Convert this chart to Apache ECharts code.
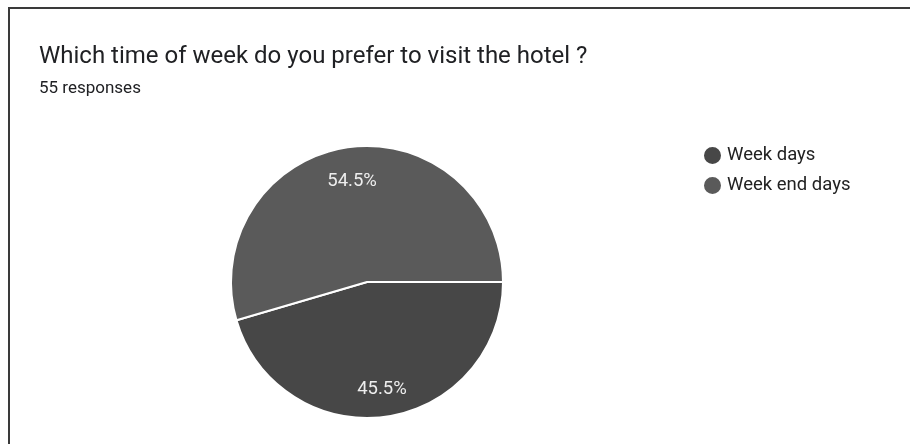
<!DOCTYPE html>
<html>
<head>
<meta charset="utf-8">
<script src="https://cdn.jsdelivr.net/npm/echarts@6/dist/echarts.min.js"></script>
<style>
  html, body { margin: 0; padding: 0; background: #fff; }
  #chart { width: 910px; height: 444px; }
</style>
</head>
<body>
<div id="chart"></div>
<script>
// Survey answers: how many respondents picked each option
const categories = ['Week days', 'Week end days'];
const responses = [25, 30];
const sliceColors = ['#474747', '#5a5a5a'];
const titleText = 'Which time of week do you prefer to visit the hotel ?';
const subtitleText = '55 responses';

const pieData = categories.map((name, i) => ({
  name: name,
  value: responses[i],
  itemStyle: { color: sliceColors[i] }
}));

const chart = echarts.init(document.getElementById('chart'), null, { renderer: 'canvas' });

const center = [367, 282];
const R = 136;

chart.setOption({
  animation: false,
  backgroundColor: '#ffffff',
  title: {
    text: titleText,
    subtext: subtitleText,
    left: 34,
    top: 40,
    itemGap: 11,
    textStyle: { fontFamily: 'Roboto', fontSize: 24, fontWeight: 'normal', color: '#202124' },
    subtextStyle: { fontFamily: 'Roboto', fontSize: 17, color: '#202124' }
  },
  legend: {
    orient: 'vertical',
    left: 697,
    top: 140,
    icon: 'circle',
    itemWidth: 19,
    itemHeight: 19,
    itemGap: 9,
    textStyle: { fontFamily: 'Roboto', fontSize: 18.5, color: '#222' },
    data: categories
  },
  graphic: [
    // card frame: top and left edges
    { type: 'line', shape: { x1: 8, y1: 8, x2: 910, y2: 8 }, style: { stroke: '#3a3a3a', lineWidth: 2 } },
    { type: 'line', shape: { x1: 9, y1: 7, x2: 9, y2: 444 }, style: { stroke: '#3a3a3a', lineWidth: 2 } }
  ],
  series: [
    {
      type: 'pie',
      center: center,
      radius: [0, R],
      startAngle: 0,
      clockwise: true,
      silent: true,
      label: { show: false },
      labelLine: { show: false },
      itemStyle: { borderColor: '#ffffff', borderWidth: 2 },
      data: pieData
    },
    {
      // transparent ring used only to place the percentage labels further out
      type: 'pie',
      center: center,
      radius: [68, R],
      startAngle: 0,
      clockwise: true,
      silent: true,
      legendHoverLink: false,
      itemStyle: { color: 'rgba(0,0,0,0)', borderWidth: 0 },
      label: {
        show: true,
        position: 'inside',
        offset: [0, 3],
        formatter: (p) => p.percent.toFixed(1) + '%',
        fontFamily: 'Roboto',
        fontSize: 18.5,
        color: '#eeeeee'
      },
      labelLine: { show: false },
      data: categories.map((name, i) => ({ name: name, value: responses[i] }))
    }
  ]
});
</script>
</body>
</html>
